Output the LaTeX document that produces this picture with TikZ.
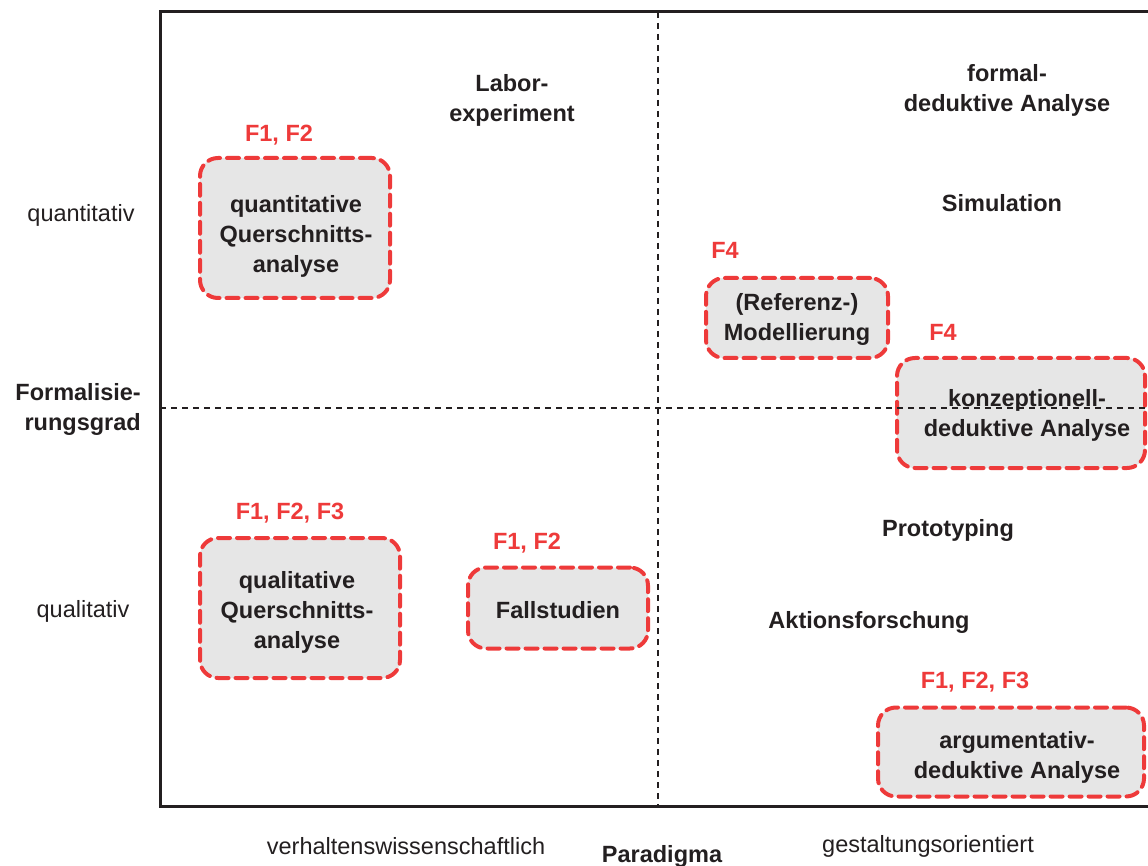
\documentclass[tikz,border=0pt]{standalone}
\usepackage{fontspec}
\setmainfont{Liberation Sans}
\definecolor{redline}{HTML}{EE3A3A}
\definecolor{boxgray}{HTML}{E6E6E6}
\definecolor{txt}{HTML}{231F20}
\begin{document}
\begin{tikzpicture}[x=1pt,y=-1pt,
  every node/.style={text=txt, inner sep=0pt},
  bold/.style={font=\bfseries\fontsize{23.5}{30}\selectfont, align=center},
  plain/.style={font=\fontsize{23.5}{30}\selectfont, align=center},
  flabel/.style={font=\bfseries\fontsize{23.5}{30}\selectfont, text=redline},
  methodbox/.style={draw=redline, fill=boxgray, line width=4pt, dash pattern=on 12pt off 7pt,
     rounded corners=18pt, line cap=round},
  quadline/.style={line width=1.5pt, dash pattern=on 6pt off 5pt, txt}
]
\useasboundingbox (0,0) rectangle (1148,866);
% frame
\draw[line width=3pt, txt] (1152,12) -- (160,12) -- (160,806) -- (1152,806);

% boxes
\node[methodbox, minimum width=190pt, minimum height=140pt] (qqa) at (295,228) {};
\node[methodbox, minimum width=200pt, minimum height=140pt] (qla) at (300,608) {};
\node[methodbox, minimum width=180pt, minimum height=81pt] (fs) at (558,608) {};
\node[methodbox, minimum width=182pt, minimum height=80pt] (rm) at (797,318) {};
\node[methodbox, minimum width=248pt, minimum height=110pt] (kda) at (1021,413) {};
\node[methodbox, minimum width=266pt, minimum height=89pt] (ada) at (1011,752) {};

% quadrant lines (drawn over the boxes)
\draw[quadline] (658,12) -- (658,806);
\draw[quadline] (160,408) -- (1148,408);

% box texts
\node[bold] (qqat) at (296,236) {quantitative\\Querschnitts-\\analyse};
\node[bold] (qlat) at (297,612) {qualitative\\Querschnitts-\\analyse};
\node[bold] (fst) at (558,610) {Fallstudien};
\node[bold] (rmt) at (797,319.5) {(Referenz-)\\Modellierung};
\node[bold] (kdat) at (1027,415.5) {konzeptionell-\\deduktive Analyse};
\node[bold] (adat) at (1017,757) {argumentativ-\\deduktive Analyse};

% labels
\node[flabel] (l1) at (279,135) {F1, F2};
\node[flabel] (l2) at (290,513) {F1, F2, F3};
\node[flabel] (l3) at (527,543) {F1, F2};
\node[flabel] (l4) at (725,250) {F4};
\node[flabel] (l5) at (943,332) {F4};
\node[flabel] (l6) at (975,682) {F1, F2, F3};

% other methods
\node[bold] (labor) at (512,100.5) {Labor-\\experiment};
\node[bold] (formal) at (1007,90.5) {formal-\\deduktive Analyse};
\node[bold] (sim) at (1002,203) {Simulation};
\node[bold] (proto) at (948,530) {Prototyping};
\node[bold] (aktion) at (869,622) {Aktionsforschung};

% axes labels
\node[bold, align=right, anchor=east] (fg) at (141,409) {Formalisie-\\rungsgrad};
\node[plain] (quant) at (81,215) {quantitativ};
\node[plain] (qual) at (83,611) {qualitativ};
\node[plain] (verh) at (406,846) {verhaltenswissenschaftlich};
\node[plain] (gest) at (928,846) {gestaltungsorientiert};
\node[bold] (para) at (662,856) {Paradigma};
\end{tikzpicture}
\end{document}
